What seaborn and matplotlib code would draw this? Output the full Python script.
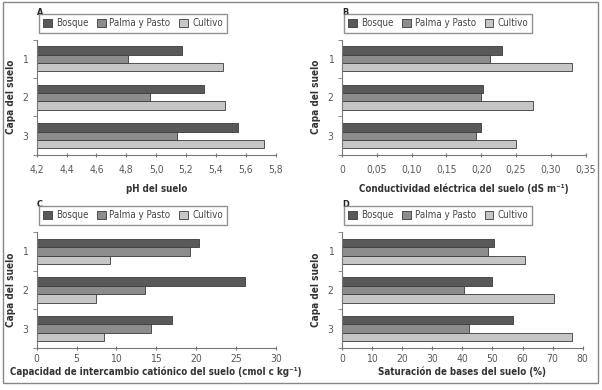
import pandas as pd
import numpy as np
import matplotlib
matplotlib.use('Agg')
import matplotlib.pyplot as plt
import seaborn as sns
from matplotlib.patches import Rectangle
from matplotlib.ticker import FixedLocator

# datos
capas = ['1', '2', '3']
usos = ['Bosque', 'Palma y Pasto', 'Cultivo']

ph_bosque = [5.17, 5.32, 5.55]
ph_palma = [4.81, 4.96, 5.14]
ph_cultivo = [5.45, 5.46, 5.72]

ce_bosque = [0.230, 0.203, 0.199]
ce_palma = [0.212, 0.200, 0.193]
ce_cultivo = [0.330, 0.274, 0.250]

cic_bosque = [20.4, 26.1, 17.0]
cic_palma = [19.2, 13.6, 14.4]
cic_cultivo = [9.2, 7.4, 8.4]

sb_bosque = [50.6, 50.0, 56.9]
sb_palma = [48.5, 40.6, 42.1]
sb_cultivo = [60.8, 70.5, 76.3]

colores = ['#595959', '#8c8c8c', '#c6c6c6']

sns.set_style('white')
plt.rcParams['font.family'] = ['DejaVu Sans']
plt.rcParams['font.stretch'] = 'condensed'


def armar_df(bosque, palma, cultivo):
    filas = []
    for serie, nombre in zip([bosque, palma, cultivo], usos):
        for c, v in zip(capas, serie):
            filas.append({'capa': c, 'uso': nombre, 'valor': v})
    return pd.DataFrame(filas)


def graficar_panel(ax, df, letra, xlabel, xlim, ticks, ticklabels, tpad=5, lpad=4):
    sns.barplot(data=df, x='valor', y='capa', hue='uso', orient='h', order=capas,
                hue_order=usos, palette=colores, edgecolor='#3a3a3a', linewidth=0.6,
                width=0.65, ax=ax)
    ax.set_xlim(*xlim)
    ax.set_ylim(2.5, -0.5)
    ax.set_xticks(ticks)
    ax.set_xticklabels(ticklabels, fontsize=7.5, color='#5a5a5a')
    ax.set_yticks([0, 1, 2])
    ax.set_yticklabels(capas, fontsize=7.5, color='#5a5a5a')
    ax.yaxis.set_minor_locator(FixedLocator([-0.5, 0.5, 1.5, 2.5]))
    ax.tick_params(axis='y', which='major', length=0, pad=6)
    ax.tick_params(axis='y', which='minor', length=3, color='#777777', left=True)
    ax.tick_params(axis='x', length=3, color='#777777', bottom=True, direction='inout', pad=tpad)
    for s in ['top', 'right']:
        ax.spines[s].set_visible(False)
    for s in ['left', 'bottom']:
        ax.spines[s].set_color('#777777')
        ax.spines[s].set_linewidth(0.8)
    ax.set_xlabel(xlabel, fontsize=7, fontweight='bold', color='#333333', labelpad=lpad)
    ax.set_ylabel('Capa del suelo', fontsize=7.2, fontweight='bold', color='#333333', labelpad=5)
    ax.legend(loc='lower left', bbox_to_anchor=(-0.012, 1.02), ncol=3, fontsize=7,
              frameon=True, fancybox=False, edgecolor='#777777', handlelength=0.9,
              handleheight=0.9, handletextpad=0.4, columnspacing=0.9,
              borderpad=0.45, labelcolor='#444444')
    ax.text(0.0, 1.2, letra, transform=ax.transAxes, fontsize=6.5, fontweight='bold',
            color='#222222', ha='left', va='bottom')


fig = plt.figure(figsize=(6.02, 3.9), dpi=100)
axA = fig.add_axes([0.061, 0.603, 0.397, 0.295])
axB = fig.add_axes([0.568, 0.603, 0.405, 0.295])
axC = fig.add_axes([0.061, 0.108, 0.397, 0.297])
axD = fig.add_axes([0.568, 0.108, 0.400, 0.297])

ticksA = [4.2, 4.4, 4.6, 4.8, 5.0, 5.2, 5.4, 5.6, 5.8]
graficar_panel(axA, armar_df(ph_bosque, ph_palma, ph_cultivo), 'A', 'pH del suelo',
               (4.2, 5.8), ticksA, [f'{t:.1f}'.replace('.', ',') for t in ticksA],
               tpad=6, lpad=6)

ticksB = [0, 0.05, 0.10, 0.15, 0.20, 0.25, 0.30, 0.35]
labB = ['0'] + [f'{t:.2f}'.replace('.', ',') for t in ticksB[1:]]
graficar_panel(axB, armar_df(ce_bosque, ce_palma, ce_cultivo), 'B',
               'Conductividad eléctrica del suelo (dS m⁻¹)', (0, 0.35), ticksB, labB,
               tpad=6, lpad=6)

ticksC = [0, 5, 10, 15, 20, 25, 30]
graficar_panel(axC, armar_df(cic_bosque, cic_palma, cic_cultivo), 'C',
               'Capacidad de intercambio catiónico del suelo (cmol c kg⁻¹)', (0, 30),
               ticksC, [str(t) for t in ticksC], tpad=3, lpad=2)

ticksD = [0, 10, 20, 30, 40, 50, 60, 70, 80]
graficar_panel(axD, armar_df(sb_bosque, sb_palma, sb_cultivo), 'D',
               'Saturación de bases del suelo (%)', (0, 80), ticksD, [str(t) for t in ticksD],
               tpad=3, lpad=2)

# marco exterior
fig.patches.append(Rectangle((0.005, 0.018), 0.988, 0.977, transform=fig.transFigure,
                             fill=False, edgecolor='#888888', linewidth=1.0))

fig.savefig('out.png', dpi=100)
